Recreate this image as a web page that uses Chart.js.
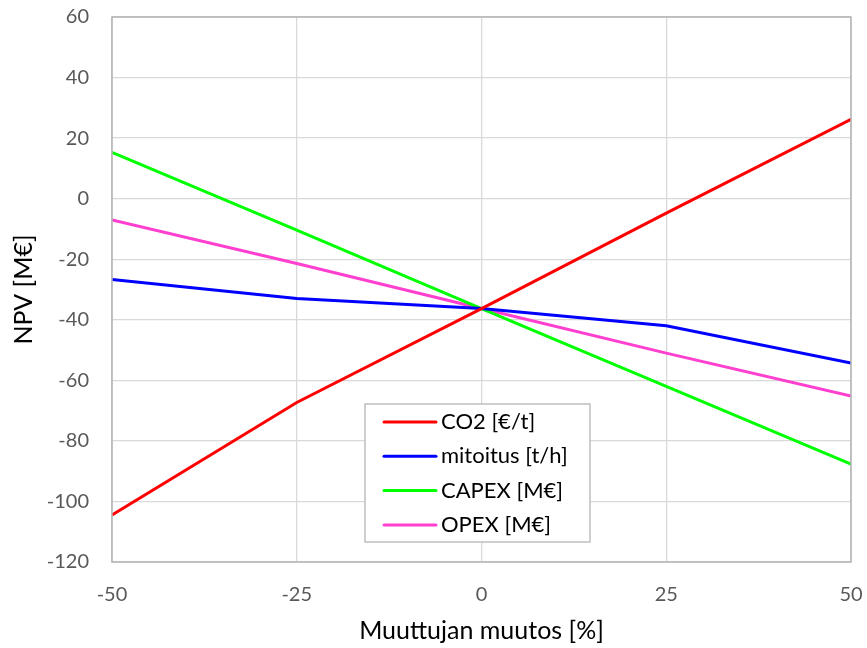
<!DOCTYPE html>
<html>
<head>
<meta charset="utf-8">
<script src="https://cdn.jsdelivr.net/npm/chart.js@4"></script>
<style>
  html, body { margin: 0; padding: 0; background: #fff; }
  #wrap { width: 867px; height: 648px; }
</style>
</head>
<body>
<div id="wrap"><canvas id="mycanvas" width="867" height="648"></canvas></div>
<script>
// sensitivity of NPV to change in each variable
var muutos = [-50, -25, 0, 25, 50];
var co2 = [-104.5, -67.3, -36.3, -4.8, 26.2];
var mitoitus = [-26.7, -33, -36.3, -42, -54.3];
var capex = [15.3, -10.4, -36.3, -62, -87.7];
var opex = [-7, -21.4, -36.3, -51, -65.2];
var yTicks = [-120, -100, -80, -60, -40, -20, 0, 20, 40, 60];

var FONT = "Lato, 'Noto Sans', sans-serif";

function pts(vals) {
    var out = [];
    for (var i in muutos) {
        out.push({ x: muutos[i], y: vals[i] });
    }
    return out;
}

function ds(label, color, vals) {
    return {
        label: label,
        data: pts(vals),
        borderColor: color,
        backgroundColor: color,
        borderWidth: 3,
        pointRadius: 0,
        pointHoverRadius: 0,
        tension: 0,
        fill: false
    };
}

// plot frame + legend box drawn inside the plot area like in Excel
var boxLegend = {
    id: 'boxLegend',
    afterDatasetsDraw: function(chart) {
        var ctx = chart.ctx;
        var a = chart.chartArea;
        ctx.save();
        ctx.strokeStyle = '#b4b4b4';
        ctx.lineWidth = 1.5;
        ctx.strokeRect(a.left, a.top, a.right - a.left, a.bottom - a.top);

        var bx = 365, by = 404, bw = 225, bh = 138;
        ctx.fillStyle = '#fff';
        ctx.fillRect(bx, by, bw, bh);
        ctx.strokeStyle = '#bfbfbf';
        ctx.lineWidth = 1.5;
        ctx.strokeRect(bx, by, bw, bh);

        ctx.font = '22px ' + FONT;
        ctx.textBaseline = 'middle';
        ctx.textAlign = 'left';
        chart.data.datasets.forEach(function(d, i) {
            var yy = by + 18 + i * 34.3;
            ctx.strokeStyle = d.borderColor;
            ctx.lineWidth = 3;
            ctx.lineCap = 'round';
            ctx.beginPath();
            ctx.moveTo(384, yy);
            ctx.lineTo(436, yy);
            ctx.stroke();
            ctx.fillStyle = '#000';
            ctx.fillText(d.label, 441, yy);
        });
        ctx.restore();
    }
};

var chartdata = {
    datasets: [
        ds('CO2 [€/t]', '#ff0000', co2),
        ds('mitoitus [t/h]', '#0000ff', mitoitus),
        ds('CAPEX [M€]', '#00ff00', capex),
        ds('OPEX [M€]', '#ff3fd0', opex)
    ]
};

var ctx = document.getElementById('mycanvas');
var LineGraph = new Chart(ctx, {
    type: 'line',
    data: chartdata,
    plugins: [boxLegend],
    options: {
        responsive: false,
        animation: false,
        layout: { padding: { top: 17, right: 16, bottom: 0, left: 0 } },
        plugins: {
            legend: { display: false },
            tooltip: { enabled: false }
        },
        scales: {
            x: {
                type: 'linear',
                min: -50,
                max: 50,
                afterBuildTicks: function(s) {
                    s.ticks = muutos.map(function(v) { return { value: v }; });
                },
                grid: { color: '#d9d9d9', lineWidth: 1.3, drawTicks: false },
                border: { display: false },
                ticks: {
                    padding: 21,
                    color: '#595959',
                    font: { family: FONT, size: 20 },
                    maxRotation: 0
                },
                title: {
                    display: true,
                    text: 'Muuttujan muutos [%]',
                    color: '#000',
                    font: { family: FONT, size: 25 },
                    padding: { top: 0, bottom: 2 }
                },
                afterFit: function(s) {
                    s.height = 86;
                    s.paddingRight = 0;
                }
            },
            y: {
                min: -120,
                max: 60,
                afterBuildTicks: function(s) {
                    s.ticks = yTicks.map(function(v) { return { value: v }; });
                },
                grid: { color: '#d9d9d9', lineWidth: 1.3, drawTicks: false },
                border: { display: false },
                ticks: {
                    padding: 23,
                    color: '#595959',
                    font: { family: FONT, size: 20 }
                },
                title: {
                    display: true,
                    text: 'NPV [M€]',
                    color: '#000',
                    font: { family: FONT, size: 25 },
                    padding: { top: 9, bottom: 0 }
                },
                afterFit: function(s) {
                    s.width = 112;
                    s.paddingTop = 0;
                }
            }
        }
    }
});
</script>
</body>
</html>
